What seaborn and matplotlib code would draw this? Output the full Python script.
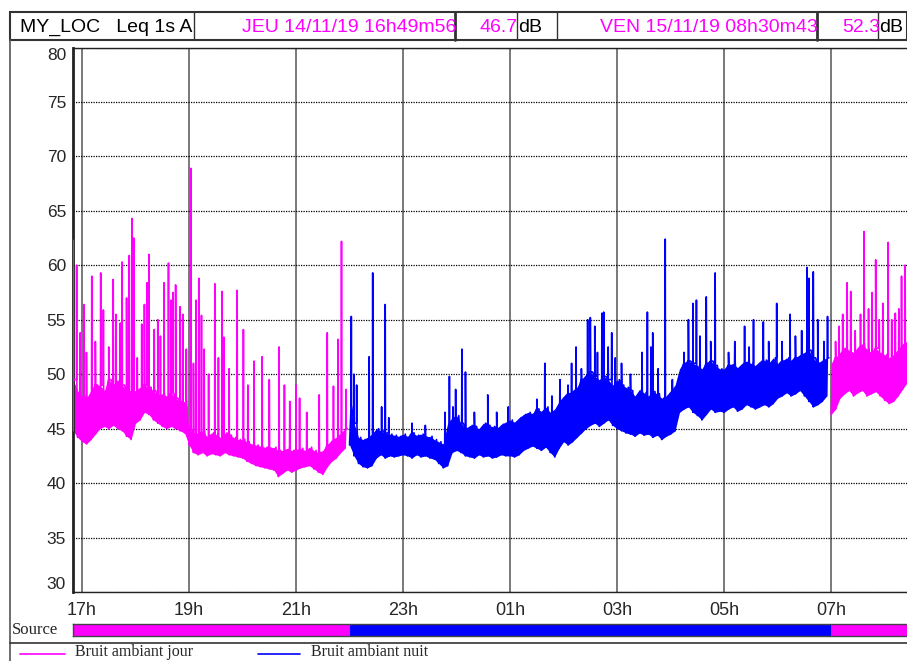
import numpy as np
import pandas as pd
import matplotlib
matplotlib.use("Agg")
import matplotlib.pyplot as plt
import matplotlib.dates as mdates
from matplotlib.patches import Rectangle
import seaborn as sns

# --- valeurs (Leq 1s en dB) ---
debut = "2019-11-14 16:50:00"

# enveloppe basse / haute du signal, une valeur par tranche de 5 min
niveau_bas = [
    44.8, 44.2,                                                          # 16h50
    43.8, 43.6, 44.0, 44.5, 45.0, 45.2, 45.0, 45.3, 45.0, 44.8, 44.3, 44.0,  # 17h
    45.5, 45.8, 46.5, 46.3, 45.8, 45.5, 45.2, 45.0, 45.2, 45.0, 44.8, 44.6,  # 18h
    43.5, 42.8, 42.6, 42.8, 42.5, 42.7, 42.6, 42.5, 42.8, 42.6, 42.5, 42.4,  # 19h
    42.3, 42.0, 41.8, 41.6, 41.5, 41.4, 41.3, 41.2, 40.6, 40.9, 41.2, 41.0,  # 20h
    41.2, 41.4, 41.5, 41.6, 41.3, 41.0, 40.8, 41.5, 42.0, 42.3, 42.8, 43.2,  # 21h
    43.5, 42.5, 41.8, 41.5, 41.4, 41.6, 42.3, 42.6, 42.3, 42.5, 42.4, 42.5,  # 22h
    42.6, 42.5, 42.3, 42.6, 42.4, 42.5, 42.3, 42.2, 41.8, 41.4, 41.6, 42.8,  # 23h
    43.0, 42.8, 42.5, 42.4, 42.3, 42.6, 42.4, 42.5, 42.3, 42.4, 42.6, 42.5,  # 00h
    42.5, 42.4, 42.6, 43.0, 43.2, 43.4, 43.2, 43.0, 43.3, 42.8, 42.4, 43.2,  # 01h
    43.8, 43.5, 43.8, 44.2, 44.6, 45.0, 45.3, 45.5, 45.2, 45.5, 45.8, 45.3,  # 02h
    45.0, 44.8, 44.6, 44.5, 44.3, 44.6, 44.4, 44.5, 44.2, 44.4, 44.0, 44.3,  # 03h
    44.5, 44.8, 46.5, 46.8, 47.0, 46.5, 46.2, 45.8, 46.3, 46.8, 46.5, 46.6,  # 04h
    46.5, 46.8, 47.0, 46.6, 46.8, 47.2, 47.0, 46.8, 47.0, 47.2, 47.0, 47.3,  # 05h
    47.8, 48.0, 48.3, 48.0, 48.2, 48.5, 48.0, 47.5, 47.0, 47.2, 47.5, 48.0,  # 06h
    46.3, 46.8, 47.8, 48.2, 48.5, 48.0, 48.3, 48.5, 48.0, 48.2, 48.4, 48.0,  # 07h
    47.6, 47.3, 47.5, 48.0, 48.6, 49.2, 49.5,                              # 08h
]
niveau_haut = [
    49.5, 48.5,
    48.0, 47.8, 48.5, 49.0, 49.0, 48.5, 49.5, 49.0, 49.5, 49.0, 48.5, 48.5,
    48.5, 48.8, 49.0, 48.8, 48.5, 48.0, 48.2, 48.0, 48.3, 47.8, 47.5, 47.5,
    45.0, 44.5, 44.6, 44.8, 44.3, 44.6, 44.5, 44.2, 44.6, 44.4, 44.2, 44.0,
    44.0, 43.8, 43.6, 43.5, 43.4, 43.3, 43.2, 43.3, 43.0, 43.0, 43.2, 43.0,
    43.0, 43.2, 43.0, 43.3, 43.0, 42.8, 43.0, 43.5, 44.0, 44.2, 44.6, 45.0,
    47.0, 45.5, 44.2, 44.0, 44.2, 44.5, 45.0, 44.8, 44.6, 44.5, 44.4, 44.3,
    44.5, 44.3, 44.6, 44.4, 44.5, 44.2, 44.3, 44.0, 43.8, 43.6, 45.5, 46.0,
    46.2, 45.5, 45.0, 45.3, 45.2, 45.0, 45.5, 45.3, 45.2, 45.0, 45.4, 45.6,
    45.8, 45.6, 46.0, 46.3, 46.5, 46.4, 46.8, 46.6, 47.0, 46.5, 46.8, 47.5,
    48.0, 48.2, 48.5, 48.8, 49.5, 50.0, 50.2, 49.8, 49.5, 49.8, 49.5, 49.0,
    49.5, 49.0, 48.8, 48.5, 48.0, 48.6, 48.3, 48.0, 48.4, 48.2, 47.8, 48.0,
    48.5, 49.0, 50.5, 51.0, 51.2, 51.0, 50.8, 50.5, 51.0, 51.2, 50.8, 50.5,
    50.5, 50.8, 51.0, 50.6, 51.0, 51.2, 51.0, 50.8, 51.2, 51.3, 51.0, 51.5,
    51.0, 51.2, 51.5, 51.3, 51.5, 51.8, 52.0, 52.2, 51.5, 51.0, 51.3, 51.5,
    51.0, 51.5, 52.0, 52.5, 52.2, 52.0, 52.5, 52.8, 52.3, 52.0, 52.4, 52.0,
    51.8, 51.5, 51.8, 52.3, 52.8, 53.0, 53.0,
]

# pics isoles : heure, niveau max
pics_heure = [
    "16:50", "16:54", "16:58", "17:02", "17:05", "17:11", "17:15", "17:21", "17:24", "17:30",
    "17:35", "17:38", "17:43", "17:45", "17:50", "17:53", "17:56", "17:58", "18:02", "18:07",
    "18:10", "18:13", "18:15", "18:21", "18:25", "18:28", "18:32", "18:37", "18:40", "18:42",
    "18:45", "18:50", "18:53", "18:57", "19:02", "19:05", "19:08", "19:11", "19:14", "19:17",
    "19:22", "19:29", "19:33", "19:37", "19:39", "19:45", "19:54", "20:01", "20:06", "20:13",
    "20:22", "20:30", "20:41", "20:47", "20:53", "21:00", "21:04", "21:12", "21:26", "21:35",
    "21:42", "21:47", "21:51", "21:56",
    "22:02", "22:05", "22:08", "22:22", "22:26", "22:36", "22:40", "22:44", "23:10", "23:25",
    "23:47", "23:52", "23:56", "23:59", "00:06", "00:10", "00:20", "00:35", "00:45", "00:58",
    "01:30", "01:39", "01:47", "01:56", "02:05", "02:09", "02:14", "02:20", "02:27", "02:30",
    "02:35", "02:38", "02:43", "02:45", "02:50", "02:54", "02:58", "03:05", "03:15", "03:28",
    "03:34", "03:38", "03:40", "03:46", "03:54", "04:02", "04:15", "04:20", "04:25", "04:29",
    "04:33", "04:40", "04:45", "04:50", "05:05", "05:12", "05:23", "05:28", "05:33", "05:44",
    "05:50", "05:59", "06:05", "06:14", "06:20", "06:27", "06:33", "06:35", "06:40", "06:45",
    "06:52", "06:56",
    "07:05", "07:09", "07:13", "07:18", "07:22", "07:27", "07:33", "07:37", "07:42", "07:46",
    "07:50", "07:54", "07:58", "08:04", "08:08", "08:12", "08:16", "08:19", "08:23", "08:27",
]
pics_niveau = [
    62.3, 60.0, 53.8, 56.4, 52.0, 59.0, 53.0, 59.3, 55.9, 52.5,
    58.7, 55.5, 54.7, 60.3, 57.0, 60.9, 64.3, 62.5, 51.5, 54.6,
    56.4, 58.4, 61.0, 54.1, 55.0, 53.5, 58.4, 60.2, 56.8, 57.5,
    58.2, 56.2, 55.5, 52.3, 68.9, 51.0, 56.8, 58.8, 55.4, 52.3,
    50.0, 58.3, 51.5, 57.6, 53.4, 50.5, 57.7, 54.1, 49.0, 51.2,
    51.6, 49.5, 52.5, 49.0, 47.5, 49.0, 47.8, 46.5, 48.1, 53.8,
    48.9, 53.2, 62.2, 48.6,
    55.3, 50.0, 49.0, 51.6, 59.3, 47.0, 56.4, 46.0, 45.5, 45.3,
    46.5, 49.8, 47.0, 48.6, 52.3, 50.2, 46.5, 48.1, 46.5, 47.0,
    47.7, 51.0, 48.0, 49.5, 49.0, 51.0, 52.5, 50.5, 55.0, 55.2,
    54.4, 52.0, 55.6, 55.7, 52.5, 53.8, 51.5, 51.0, 50.0, 52.0,
    55.7, 52.5, 53.8, 50.5, 62.4, 49.5, 52.0, 55.0, 56.5, 56.8,
    53.5, 57.1, 53.0, 59.3, 52.0, 53.0, 54.4, 52.5, 55.0, 54.8,
    53.0, 56.5, 53.0, 55.5, 53.5, 54.0, 59.8, 58.8, 59.4, 55.0,
    53.0, 55.3,
    53.0, 54.4, 55.5, 58.4, 57.6, 54.0, 55.5, 63.1, 56.0, 57.5,
    60.5, 55.0, 56.5, 62.1, 55.0, 55.6, 56.0, 59.0, 60.0, 58.0,
]

# periodes (barre "Source")
periodes_debut = ["2019-11-14 16:49:56", "2019-11-14 22:00:00", "2019-11-15 07:00:00"]
periodes_fin = ["2019-11-14 22:00:00", "2019-11-15 07:00:00", "2019-11-15 08:30:43"]
periodes_nom = ["Bruit ambiant jour", "Bruit ambiant nuit", "Bruit ambiant jour"]
couleurs = {"Bruit ambiant jour": "#ff00ff", "Bruit ambiant nuit": "#0000ff"}

y_graduations = [30, 35, 40, 45, 50, 55, 60, 65, 70, 75, 80]
x_heures = [17, 19, 21, 23, 1, 3, 5, 7]

# --- mise en forme des donnees ---
t0 = pd.Timestamp(debut)
pas = pd.Timedelta(minutes=5)
temps_bande = pd.date_range(t0, periods=len(niveau_bas), freq="5min")
demi = pd.Timedelta(seconds=150)
eps = pd.Timedelta(seconds=15)

t_pics = [pd.Timestamp(("2019-11-15 " if int(h[:2]) < 12 else "2019-11-14 ") + h + ":00")
          for h in pics_heure]
# chaque pic part du haut de la bande de sa tranche de 5 min
i_pics = [min(max(int((t - t0) // pas), 0), len(niveau_haut) - 1) for t in t_pics]
base_pics = [niveau_haut[i] for i in i_pics]

temps = (list(temps_bande) + list(temps_bande + demi)
         + [t - eps for t in t_pics] + t_pics + [t + eps for t in t_pics])
niveaux = niveau_bas + niveau_haut + base_pics + pics_niveau + base_pics
df = pd.DataFrame({"temps": temps, "niveau": niveaux})
df = df.sort_values("temps", kind="stable").reset_index(drop=True)

bornes = pd.to_datetime(periodes_debut, format="ISO8601")


def periode(t):
    s = np.searchsorted(bornes.values, np.asarray(t, dtype="datetime64[ns]"), side="right") - 1
    return np.clip(s, 0, len(periodes_nom) - 1)


df["segment"] = periode(df["temps"])
df["source"] = [periodes_nom[s] for s in df["segment"]]

bande = pd.DataFrame({"temps": temps_bande, "bas": niveau_bas, "haut": niveau_haut})
bande["segment"] = periode(bande["temps"])

# --- figure ---
sns.set_style("white")
plt.rcParams["font.family"] = ["Liberation Sans", "DejaVu Sans"]

W, H = 907, 661
fig = plt.figure(figsize=(W / 100, H / 100), dpi=100)

x0, x1 = 73, 912
ax = fig.add_axes([x0 / W, 1 - 592 / H, (x1 - x0) / W, (592 - 47.5) / H])

# bande dense du signal
for s, nom in enumerate(periodes_nom):
    b = bande[bande["segment"] == s]
    ax.fill_between(b["temps"], b["bas"], b["haut"], color=couleurs[nom], lw=0, zorder=2)

sns.lineplot(data=df, x="temps", y="niveau", hue="source", units="segment",
             estimator=None, palette=couleurs, lw=1.2, legend=False, sort=False, ax=ax,
             zorder=3)

t_debut = pd.Timestamp(periodes_debut[0])
t_fin = pd.Timestamp(periodes_fin[-1])
ax.set_xlim(t_debut, t_fin)
ax.set_ylim(30, 80)
ax.set_yticks(y_graduations)
lab = ax.set_yticklabels([str(v) for v in y_graduations])
lab[0].set_va("bottom")
lab[-1].set_va("top")
ax.xaxis.set_major_locator(mdates.HourLocator(byhour=x_heures))
ax.xaxis.set_major_formatter(mdates.DateFormatter("%Hh"))
ax.set_xlabel("")
ax.set_ylabel("")
ax.grid(axis="y", color="black", lw=0.9, ls=(0, (1, 1)))
ax.grid(axis="x", color="#555555", lw=1.1, ls="-")
ax.set_axisbelow(True)
ax.tick_params(axis="y", length=4, width=1, direction="out", pad=1, labelsize=12.5)
ax.tick_params(axis="x", length=0, pad=7, labelsize=13)
for s in ["top", "bottom"]:
    ax.spines[s].set_color("#222222")
    ax.spines[s].set_linewidth(1)
ax.spines["left"].set_color("#222222")
ax.spines["left"].set_linewidth(2)
ax.spines["right"].set_visible(False)

# barre Source
ax_src = fig.add_axes([x0 / W, 1 - 636 / H, (x1 - x0) / W, 12 / H], sharex=ax)
for d, f, nom in zip(periodes_debut, periodes_fin, periodes_nom):
    gauche = mdates.date2num(pd.Timestamp(d))
    ax_src.barh(0, mdates.date2num(pd.Timestamp(f)) - gauche, left=gauche, height=1,
                color=couleurs[nom], lw=0)
ax_src.set_ylim(-0.5, 0.5)
ax_src.tick_params(axis="both", length=0, labelbottom=False, labelleft=False)
ax_src.grid(False)
for s in ax_src.spines.values():
    s.set_color("#444444")
    s.set_linewidth(1)
ax_src.spines["right"].set_visible(False)

# cadre : en-tete, source, legende
cadre = fig.add_axes([0, 0, 1, 1], zorder=5)
cadre.set_xlim(0, W)
cadre.set_ylim(H, 0)
cadre.axis("off")

cadre.add_patch(Rectangle((10, 12), W - 10, 28, fill=False, lw=1.5, ec="#333333"))
for xs, lw in [(194, 1), (455, 2), (517, 1), (557, 1), (817, 2), (878, 1)]:
    cadre.plot([xs, xs], [12, 40], color="#333333", lw=lw)

entetes = [
    ("MY_LOC   Leq 1s A", 20, "left", "black", (10, 193)),
    ("JEU 14/11/19 16h49m56", 456, "right", "#ff00ff", (194, 454)),
    ("46.7", 518, "right", "#ff00ff", (456, 516)),
    ("dB", 518, "left", "black", (517, 557)),
    ("VEN 15/11/19 08h30m43", 818, "right", "#ff00ff", (557, 816)),
    ("52.3", 880, "right", "#ff00ff", (818, 878)),
    ("dB", 879, "left", "black", (879, 907)),
]
for txt, xt, ha, coul, (ga, dr) in entetes:
    t = cadre.text(xt, 27, txt, ha=ha, va="center", color=coul, fontsize=14)
    clip = Rectangle((ga, 12), dr - ga, 28, transform=cadre.transData)
    t.set_clip_path(clip)

cadre.plot([10, 10], [40, H], color="#555555", lw=1.2)
cadre.text(12, 630, "Source", ha="left", va="center", fontsize=12,
           family=["Liberation Serif", "DejaVu Serif"])
cadre.plot([10, W], [643, 643], color="#333333", lw=1.2)

for (xa, xb, xt), nom in zip([(20, 65, 75), (258, 300, 311)],
                              ["Bruit ambiant jour", "Bruit ambiant nuit"]):
    cadre.plot([xa, xb], [654, 654], color=couleurs[nom], lw=1.2)
    cadre.text(xt, 659.5, nom, ha="left", va="bottom", fontsize=11.5,
               family=["Liberation Serif", "DejaVu Serif"])

fig.savefig("out.png", dpi=100)
